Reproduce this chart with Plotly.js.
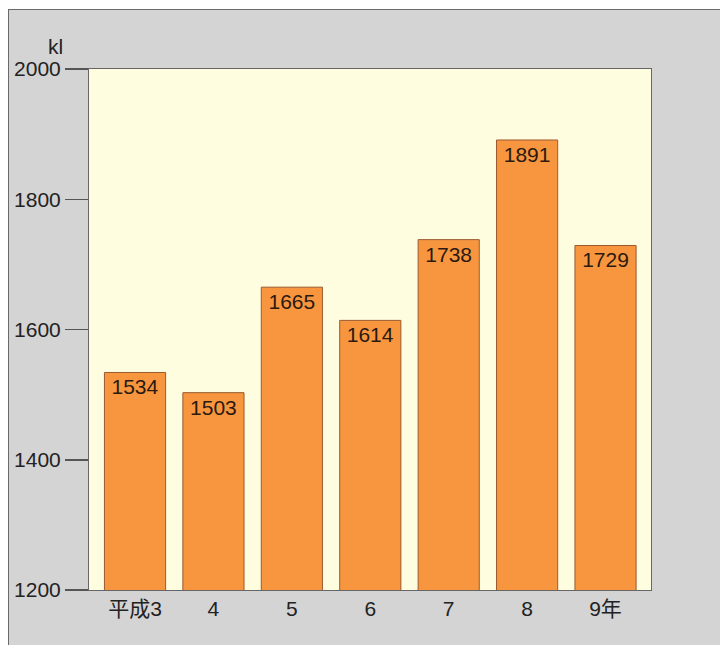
<!DOCTYPE html>
<html>
<head>
<meta charset="utf-8">
<script src="https://cdn.plot.ly/plotly-3.0.1.min.js"></script>
<style>
  html, body { margin: 0; padding: 0; background: #ffffff; overflow: hidden; }
  #chart {
    position: absolute; left: 8px; top: 9px;
    width: 711px; height: 635px;
    border-left: 1.5px solid #6a6a6a; border-top: 1.5px solid #6a6a6a;
    background: #d3d3d3;
  }
</style>
</head>
<body>
<div id="chart"></div>
<script>
const categories = ["平成3", "4", "5", "6", "7", "8", "9年"];
const values = [1534, 1503, 1665, 1614, 1738, 1891, 1729];
const yTicks = [1200, 1400, 1600, 1800, 2000];
const unitLabel = "kl";

const font = "'Liberation Sans', 'Noto Sans CJK JP', Arial, sans-serif";

const trace = {
  type: "bar",
  x: categories,
  y: values,
  base: 0,
  width: 0.78,
  marker: { color: "#f7963f", line: { color: "#9a5a30", width: 1 } },
  text: values.map(String),
  textposition: "inside",
  insidetextanchor: "end",
  textangle: 0,
  insidetextfont: { family: font, size: 21, color: "#2a1a10" },
  cliponaxis: true,
  hoverinfo: "skip"
};

const layout = {
  width: 711,
  height: 635,
  margin: { l: 80, r: 69, t: 59, b: 55 },
  paper_bgcolor: "#d4d4d4",
  plot_bgcolor: "#fffde0",
  showlegend: false,
  font: { family: font, size: 21, color: "#222222" },
  xaxis: {
    type: "category",
    range: [-0.587, 6.58],
    showgrid: false,
    zeroline: false,
    showline: true,
    mirror: true,
    linecolor: "#666666",
    linewidth: 1,
    ticks: "",
    tickfont: { family: font, size: 21, color: "#222222" }
  },
  yaxis: {
    range: [1200, 2000],
    tickvals: yTicks,
    ticktext: yTicks.map(String),
    showgrid: false,
    zeroline: false,
    showline: true,
    mirror: true,
    linecolor: "#666666",
    linewidth: 1,
    ticks: "outside",
    ticklen: 23,
    tickcolor: "#555555",
    tickwidth: 1.5,
    tickfont: { family: font, size: 21, color: "#222222" }
  },
  annotations: [
    { text: unitLabel, xref: "paper", yref: "paper", x: 0, y: 1, xanchor: "right", yanchor: "bottom",
      xshift: -24, yshift: 9, showarrow: false, font: { family: font, size: 21, color: "#222222" } }
  ]
};

Plotly.newPlot("chart", [trace], layout, { staticPlot: true, displayModeBar: false });
</script>
</body>
</html>
